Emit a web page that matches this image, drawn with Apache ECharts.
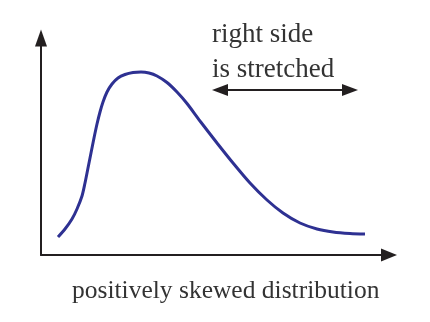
<!DOCTYPE html>
<html>
<head>
<meta charset="utf-8">
<script src="https://cdn.jsdelivr.net/npm/echarts@6/dist/echarts.min.js"></script>
<style>
html,body{margin:0;padding:0;background:#fff;}
#chart{width:430px;height:322px;}
</style>
</head>
<body>
<div id="chart"></div>
<script>
// Curve (arbitrary units: x to the right, y upward)
var curveX = [17, 24, 31, 36, 41, 44, 47, 50, 53, 56, 59, 62, 66, 71, 77, 84, 92, 100, 108, 116, 126, 136, 146, 159, 176, 192, 209, 226, 242, 259, 276, 292, 309, 324];
var curveY = [18, 26, 36, 46, 59, 72, 87, 102, 117, 131, 143, 153, 163, 171, 177, 180.5, 182.5, 183, 182, 179, 172.5, 163, 151.5, 134, 112, 92, 72, 55, 42, 32, 26, 23, 21.5, 21];
var annotationLines = ['right side', 'is stretched'];
var captionText = 'positively skewed distribution';

var points = curveX.map(function (x, i) { return [x, curveY[i]]; });

var chart = echarts.init(document.getElementById('chart'), null, {renderer: 'canvas'});
var axisColor = '#231f20';
var textColor = '#333333';
chart.setOption({
  animation: false,
  backgroundColor: '#ffffff',
  grid: {left: 41, top: 38, right: 41, bottom: 67},
  xAxis: {
    type: 'value', min: 0, max: 348,
    axisLine: {show: true, onZero: false, lineStyle: {color: axisColor, width: 2},
      symbol: ['none', 'triangle'], symbolSize: [13, 16]},
    axisTick: {show: false}, axisLabel: {show: false}, splitLine: {show: false}
  },
  yAxis: {
    type: 'value', min: 0, max: 217,
    axisLine: {show: true, onZero: false, lineStyle: {color: axisColor, width: 2},
      symbol: ['none', 'triangle'], symbolSize: [12, 17]},
    axisTick: {show: false}, axisLabel: {show: false}, splitLine: {show: false}
  },
  series: [{
    type: 'line',
    data: points,
    smooth: 0.3,
    showSymbol: false,
    lineStyle: {color: '#2e3192', width: 3}
  }],
  graphic: [
    {type: 'text', left: 212, top: 17, style: {text: annotationLines.join('\n'), font: '27px "Liberation Serif", "Times New Roman", serif', fill: textColor, lineHeight: 35}},
    {type: 'line', shape: {x1: 222, y1: 90, x2: 348, y2: 90}, style: {stroke: axisColor, lineWidth: 2}},
    {type: 'polygon', shape: {points: [[212, 90], [228, 84], [228, 96]]}, style: {fill: axisColor}},
    {type: 'polygon', shape: {points: [[358, 90], [342, 84], [342, 96]]}, style: {fill: axisColor}},
    {type: 'text', left: 72, top: 278, style: {text: captionText, font: '25.5px "Liberation Serif", "Times New Roman", serif', fill: textColor}}
  ]
});
</script>
</body>
</html>
